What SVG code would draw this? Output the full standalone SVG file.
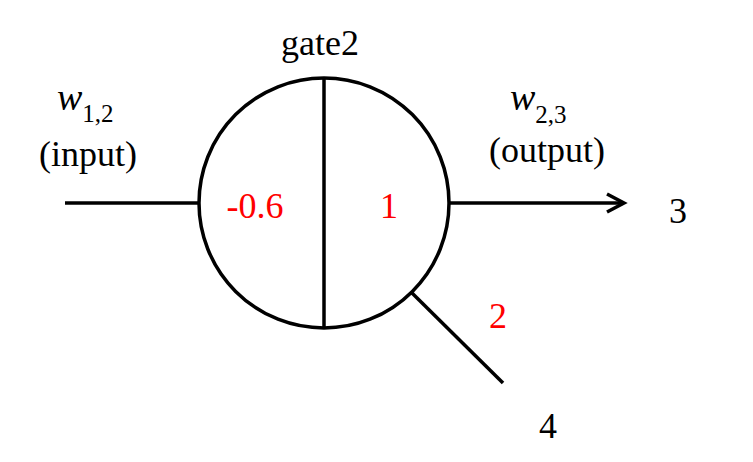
<svg xmlns="http://www.w3.org/2000/svg" width="753" height="462" viewBox="0 0 753 462">
<style>
.ln{stroke:#000;stroke-width:3.5;fill:none}
text{font-family:"Liberation Serif","DejaVu Serif",serif;font-size:36px;fill:#000}
.r{fill:#f00}
.w{font-style:italic;font-size:38px}
.sub{font-size:25px}
</style>
<defs>
<marker id="arr" markerUnits="userSpaceOnUse" markerWidth="30" markerHeight="30" refX="18" refY="10" orient="auto" viewBox="0 0 30 20">
<path d="M1,1 L18,10 L1,19" fill="none" stroke="#000" stroke-width="3.5"/>
</marker>
</defs>
<rect width="753" height="462" fill="#fff"/>
<g id="connectors">
<line class="ln" x1="65" y1="203" x2="198" y2="203"/>
<line class="ln" x1="450" y1="203" x2="624" y2="203" marker-end="url(#arr)"/>
<line class="ln" x1="412" y1="293" x2="503" y2="383"/>
</g>
<g id="gate2">
<circle class="ln" cx="324" cy="203" r="125"/>
<line class="ln" x1="324" y1="78" x2="324" y2="328"/>
<text x="320" y="55" text-anchor="middle">gate2</text>
<text class="r" x="255" y="218" text-anchor="middle">-0.6</text>
<text class="r" x="389" y="218" text-anchor="middle">1</text>
</g>
<g id="input-label">
<text x="57" y="110"><tspan class="w">w</tspan><tspan class="sub" dy="12">1,2</tspan></text>
<text x="88" y="166" text-anchor="middle">(input)</text>
</g>
<g id="output-label">
<text x="510" y="110"><tspan class="w">w</tspan><tspan class="sub" dy="13">2,3</tspan></text>
<text x="547" y="162" text-anchor="middle">(output)</text>
</g>
<g id="node3"><text x="678" y="223" text-anchor="middle">3</text></g>
<g id="node4"><text x="548" y="438" text-anchor="middle">4</text></g>
<g id="weight2"><text class="r" x="498" y="328" text-anchor="middle">2</text></g>
</svg>
